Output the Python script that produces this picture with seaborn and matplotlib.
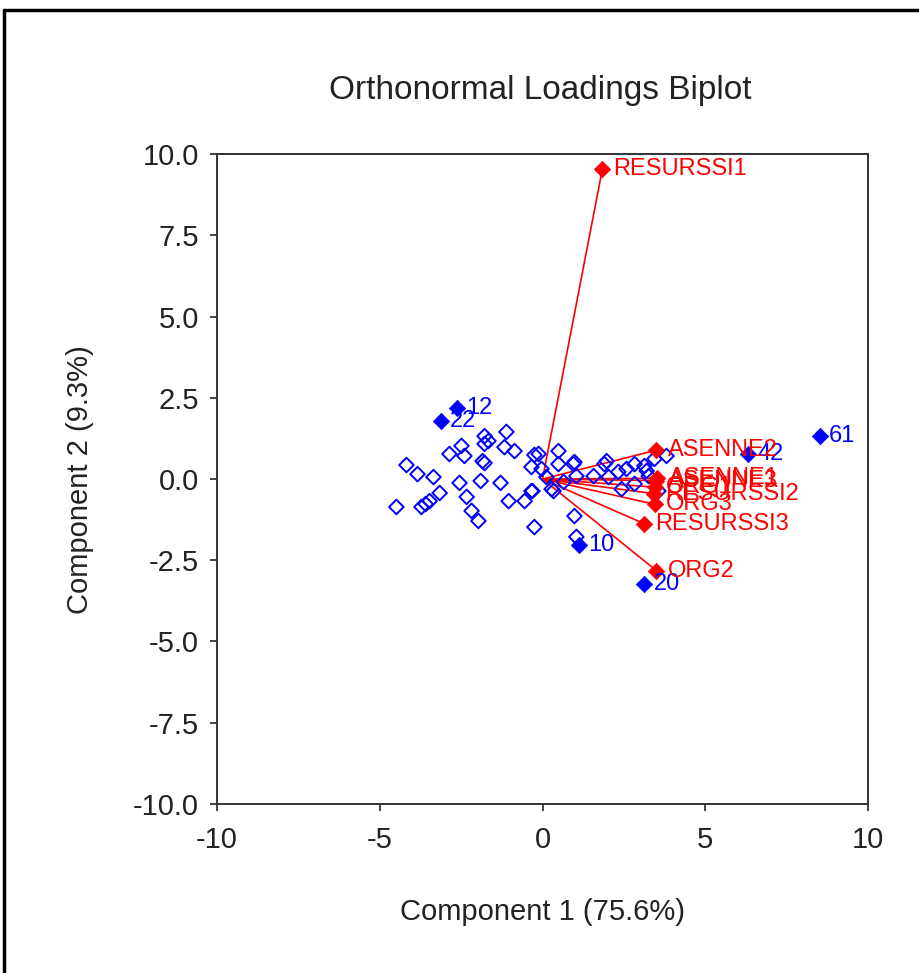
import matplotlib
matplotlib.use("Agg")
import matplotlib.pyplot as plt
import seaborn as sns
import pandas as pd
from matplotlib.lines import Line2D

# component scores of the observations (unlabelled, open diamonds)
score_x = [-1.11, -1.78, -1.66, -1.78, -2.86, -2.49, -2.40, -1.17, -0.86, -1.78,
           -1.84, -4.18, -3.84, -3.35, -2.55, -1.90, -1.29, -3.16, -3.47, -3.72,
           -3.59, -4.49, -2.33, -2.18, -1.97, -1.04, -0.55, -0.31, -0.25, -0.34,
           -0.25, 0.98, 1.04, 0.49, 0.95, 0.28, -0.12, 0.49, 0.98, 1.97,
           1.90, 2.33, 2.58, 2.83, 3.13, 3.44, 3.81, 2.03, 1.57, 1.04,
           0.65, 0.34, 2.43, 2.83, 3.26, 3.56, -0.03, 0.12, -0.34, 3.20]
score_y = [1.45, 1.32, 1.17, 1.08, 0.77, 1.02, 0.71, 0.98, 0.86, 0.49,
           0.55, 0.43, 0.15, 0.06, -0.12, -0.06, -0.12, -0.43, -0.68, -0.86,
           -0.77, -0.86, -0.55, -0.98, -1.29, -0.68, -0.68, -0.37, 0.74, 0.37,
           -1.48, -1.14, -1.78, 0.86, 0.46, -0.31, 0.77, 0.46, 0.52, 0.55,
           0.46, 0.22, 0.31, 0.46, 0.40, 0.62, 0.71, 0.06, 0.09, 0.09,
           -0.09, -0.37, -0.31, -0.15, 0.09, -0.37, 0.31, 0.06, -0.37, 0.25]

# labelled observations (filled diamonds)
obs_names = ["12", "22", "61", "42", "10", "20"]
obs_x = [-2.64, -3.13, 8.51, 6.30, 1.11, 3.13]
obs_y = [2.18, 1.78, 1.32, 0.77, -2.02, -3.23]

# variable loadings
var_names = ["RESURSSI1", "ASENNE2", "ASENNE1", "ASENNE3", "ORG1",
             "RESURSSI2", "ORG3", "RESURSSI3", "ORG2"]
load_x = [1.84, 3.50, 3.53, 3.50, 3.45, 3.42, 3.45, 3.13, 3.50]
load_y = [9.54, 0.89, 0.02, -0.05, -0.25, -0.45, -0.78, -1.38, -2.82]

BLUE = "#0000ff"
RED = "#ff0000"
TXT = "#222222"

sns.set_style("ticks")
plt.rcParams["font.family"] = ["Liberation Sans", "DejaVu Sans"]

fig = plt.figure(figsize=(9.2, 9.73), dpi=100)
ax = fig.add_axes([0.2359, 0.1737, 0.7076, 0.668])

scores = pd.DataFrame({"x": score_x, "y": score_y})
obs = pd.DataFrame({"name": obs_names, "x": obs_x, "y": obs_y})
loads = pd.DataFrame({"name": var_names, "x": load_x, "y": load_y})

# loading vectors from the origin
for _, r in loads.iterrows():
    ax.plot([0, r["x"]], [0, r["y"]], color=RED, lw=1.2, zorder=2)

sns.scatterplot(data=scores, x="x", y="y", ax=ax, marker="D", s=55,
                facecolor="none", edgecolor=BLUE, linewidth=1.4, zorder=3)
sns.scatterplot(data=obs, x="x", y="y", ax=ax, marker="D", s=70,
                color=BLUE, edgecolor=BLUE, linewidth=0.5, zorder=4)
sns.scatterplot(data=loads, x="x", y="y", ax=ax, marker="D", s=70,
                color=RED, edgecolor=RED, linewidth=0.5, zorder=5)

for _, r in obs.iterrows():
    ax.annotate(r["name"], (r["x"], r["y"]), xytext=(7, 0), textcoords="offset points",
                va="center", ha="left", color=BLUE, fontsize=17, zorder=6)
for _, r in loads.iterrows():
    ax.annotate(r["name"], (r["x"], r["y"]), xytext=(8, 0), textcoords="offset points",
                va="center", ha="left", color=RED, fontsize=17, zorder=6)

ax.set_xlim(-10, 10)
ax.set_ylim(-10, 10)
ax.set_xticks([-10, -5, 0, 5, 10])
ax.set_xticklabels(["-10", "-5", "0", "5", "10"])
yt = [-10, -7.5, -5, -2.5, 0, 2.5, 5, 7.5, 10]
ax.set_yticks(yt)
ax.set_yticklabels([f"{v:.1f}" for v in yt])
ax.tick_params(axis="both", direction="out", length=5, width=1.2,
               labelsize=21, colors=TXT, pad=8)
ax.tick_params(axis="x", pad=11)
for sp in ax.spines.values():
    sp.set_visible(True)
    sp.set_color("#333333")
    sp.set_linewidth(1.4)
ax.set_xlabel("")
ax.set_ylabel("")

fig.text(0.587, 0.9075, "Orthonormal Loadings Biplot", ha="center", va="center",
         fontsize=24, color=TXT)
fig.text(0.590, 0.0627, "Component 1 (75.6%)", ha="center", va="center",
         fontsize=21, color=TXT)
fig.text(0.087, 0.507, "Component 2 (9.3%)", ha="center", va="center",
         rotation=90, fontsize=21, color=TXT)

# outer frame (top and left edges visible in the crop)
fig.add_artist(Line2D([4 / 920, 1], [1 - 10 / 973, 1 - 10 / 973],
                      transform=fig.transFigure, color="black", lw=2.5))
fig.add_artist(Line2D([4 / 920, 4 / 920], [0, 1 - 10 / 973],
                      transform=fig.transFigure, color="black", lw=2.5))

fig.savefig("out.png", dpi=100)
